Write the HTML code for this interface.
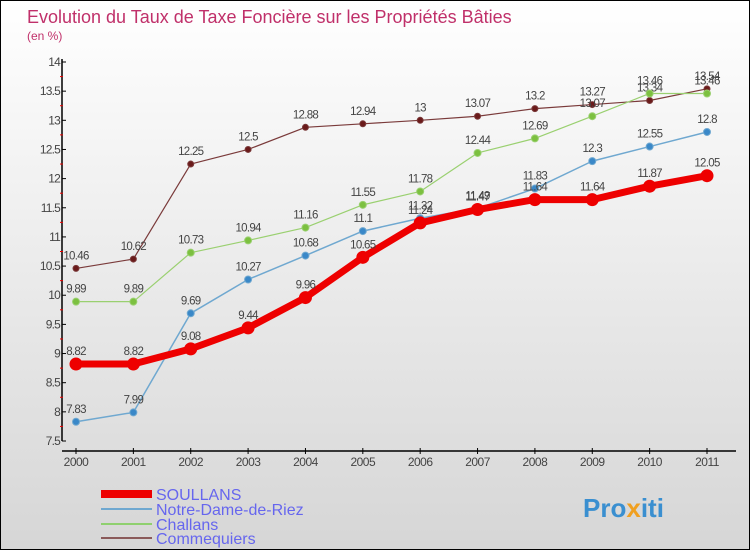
<!DOCTYPE html>
<html><head><meta charset="utf-8"><style>
body{margin:0}
#c{width:748px;height:548px;border:1px solid #000;background:linear-gradient(#fff,#d6d6d6);position:relative;font-family:"Liberation Sans",sans-serif;overflow:hidden}
</style></head><body>
<div id="c">
<svg id="s" width="748" height="548" xmlns="http://www.w3.org/2000/svg">
<text x="26" y="22" font-size="18" fill="#c0306a">Evolution du Taux de Taxe Foncière sur les Propriétés Bâties</text>
<text x="26" y="39" font-size="12" fill="#c0306a">(en %)</text>
<g id="axes"></g><g id="series"></g>
<g>
<rect x="100" y="489" width="51" height="8" fill="#e00"/>
<text x="155" y="499" font-size="16" fill="#6666ee">SOULLANS</text>
<rect x="100" y="507" width="51" height="2" fill="#6fa8d0"/>
<text x="155" y="514" font-size="16" fill="#6666ee">Notre-Dame-de-Riez</text>
<rect x="100" y="522" width="51" height="2" fill="#8fd06f"/>
<text x="155" y="529" font-size="16" fill="#6666ee">Challans</text>
<rect x="100" y="536" width="51" height="2" fill="#8a5a5a"/>
<text x="155" y="543" font-size="16" fill="#6666ee">Commequiers</text>
</g>
<text x="582" y="516" font-size="26" font-weight="bold" fill="#3a8fd0">Pro<tspan fill="#f0a020">x</tspan>iti</text>
</svg>
</div>
<script>
const years=[2000,2001,2002,2003,2004,2005,2006,2007,2008,2009,2010,2011];
const yTicks=[7.5,8,8.5,9,9.5,10,10.5,11,11.5,12,12.5,13,13.5,14];
const soullans=[8.82,8.82,9.08,9.44,9.96,10.65,11.24,11.47,11.64,11.64,11.87,12.05];
const notreDame=[7.83,7.99,9.69,10.27,10.68,11.1,11.32,11.49,11.83,12.3,12.55,12.8];
const challans=[9.89,9.89,10.73,10.94,11.16,11.55,11.78,12.44,12.69,13.07,13.46,13.46];
const commequiers=[10.46,10.62,12.25,12.5,12.88,12.94,13,13.07,13.2,13.27,13.34,13.54];
const NS="http://www.w3.org/2000/svg";
const X=i=>75+i*(706-75)/(years.length-1);
const Y=v=>440-(v-7.5)*(440-61)/6.5;
function mk(t,a,p){const e=document.createElementNS(NS,t);for(const k in a)e.setAttribute(k,a[k]);p.appendChild(e);return e;}
const ax=document.getElementById('axes');
let yl=mk('line',{x1:61,y1:58,x2:61,y2:440,stroke:'#000','stroke-width':1.5},ax);


let xl=mk('line',{x1:61,y1:450,x2:735,y2:450,stroke:'#000','stroke-width':1.5},ax);


yTicks.forEach((v,i)=>{
 mk('line',{x1:61,y1:Y(v),x2:65,y2:Y(v),stroke:'#000'},ax);
 if(i<yTicks.length-1)mk('line',{x1:59,y1:Y(v+0.25),x2:62,y2:Y(v+0.25),stroke:'#e00'},ax);
 const t=mk('text',{x:59,y:Y(v)+4,'font-size':12,'text-anchor':'end',fill:'#444','letter-spacing':'-0.8'},ax);
 t.textContent=String(v);
 
 
});
years.forEach((y,i)=>{
 mk('line',{x1:X(i),y1:447,x2:X(i),y2:453,stroke:'#000'},ax);
 const t=mk('text',{x:X(i),y:465,'font-size':12,'text-anchor':'middle',fill:'#444','letter-spacing':'-0.5'},ax);
 t.textContent=String(y);
 
 
});
const sg=document.getElementById('series');
function draw(data,name,color,w,r,fill){
 const g=mk('g',{},sg);
 
 
 const pl=mk('polyline',{points:data.map((v,i)=>X(i)+','+Y(v)).join(' '),fill:'none',stroke:color,'stroke-width':w,'stroke-linejoin':'round'},g);
 
 
 data.forEach((v,i)=>{
  const c=mk('circle',{cx:X(i),cy:Y(v),r:r,fill:fill,stroke:color,'stroke-width':1},g);
  
  
  const t=mk('text',{x:X(i),y:Y(v)-9,'font-size':11.5,'text-anchor':'middle',fill:'#444','letter-spacing':'-0.7'},g);
  t.textContent=String(v);
  
  
 });
}
draw(commequiers,'commequiers','#7a3a3a',1.2,3,'#6a1a1a');
draw(challans,'challans','#9ad070',1.2,3.5,'#7cc040');
draw(notreDame,'notre-dame','#6fa8d0',1.5,3.5,'#3a88c8');
draw(soullans,'soullans','#e00',7,6,'#e00');
</script>
</body></html>
